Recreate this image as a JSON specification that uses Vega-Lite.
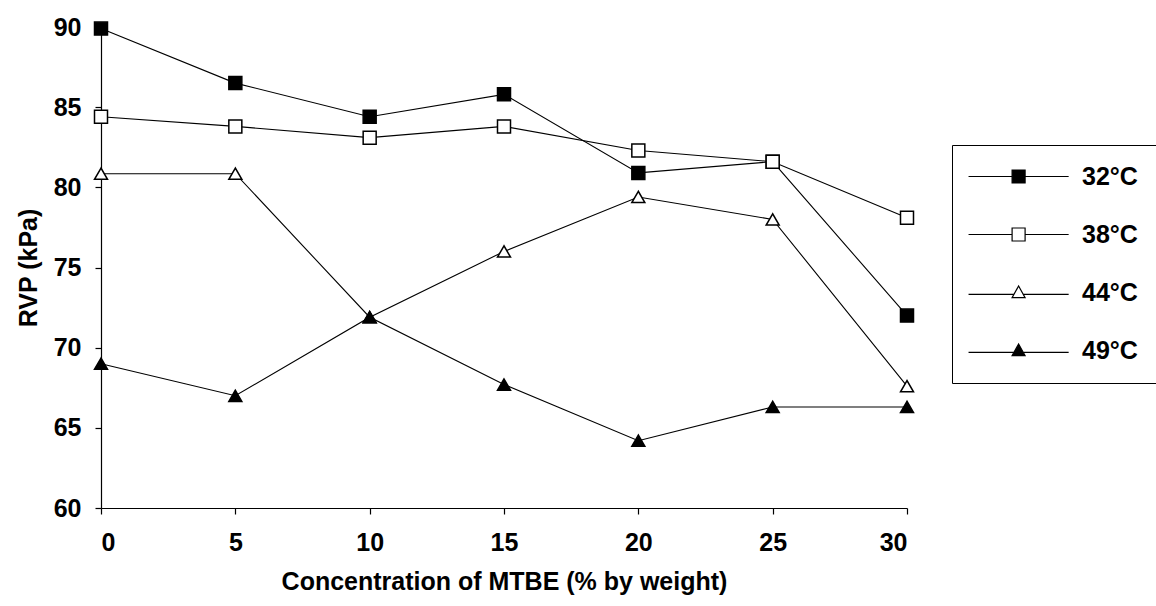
{
  "$schema": "https://vega.github.io/schema/vega-lite/v6.json",
  "autosize": "none",
  "padding": {"left": 101, "top": 27, "right": 249, "bottom": 98},
  "width": 806,
  "height": 481,
  "background": "white",
  "config": {
    "view": {"stroke": null},
    "font": "Liberation Sans",
    "axis": {
      "domainColor": "black", "tickColor": "black", "domainWidth": 1.2, "tickWidth": 1.2,
      "labelFont": "Liberation Sans", "labelFontWeight": "bold", "labelFontSize": 25, "labelColor": "black",
      "titleFont": "Liberation Sans", "titleFontWeight": "bold", "titleFontSize": 25, "titleColor": "black",
      "grid": false, "tickSize": 6
    },
    "legend": {
      "labelFont": "Liberation Sans", "labelFontWeight": "bold", "labelFontSize": 25, "labelColor": "black"
    }
  },
  "data": {
    "values": [
      {"mtbe": 0, "rvp": 89.9, "temp": "32°C"},
      {"mtbe": 5, "rvp": 86.5, "temp": "32°C"},
      {"mtbe": 10, "rvp": 84.4, "temp": "32°C"},
      {"mtbe": 15, "rvp": 85.8, "temp": "32°C"},
      {"mtbe": 20, "rvp": 80.9, "temp": "32°C"},
      {"mtbe": 25, "rvp": 81.6, "temp": "32°C"},
      {"mtbe": 30, "rvp": 72.0, "temp": "32°C"},
      {"mtbe": 0, "rvp": 84.4, "temp": "38°C"},
      {"mtbe": 5, "rvp": 83.8, "temp": "38°C"},
      {"mtbe": 10, "rvp": 83.1, "temp": "38°C"},
      {"mtbe": 15, "rvp": 83.8, "temp": "38°C"},
      {"mtbe": 20, "rvp": 82.3, "temp": "38°C"},
      {"mtbe": 25, "rvp": 81.6, "temp": "38°C"},
      {"mtbe": 30, "rvp": 78.1, "temp": "38°C"},
      {"mtbe": 0, "rvp": 80.85, "temp": "44°C"},
      {"mtbe": 5, "rvp": 80.85, "temp": "44°C"},
      {"mtbe": 10, "rvp": 71.9, "temp": "44°C"},
      {"mtbe": 15, "rvp": 76.0, "temp": "44°C"},
      {"mtbe": 20, "rvp": 79.4, "temp": "44°C"},
      {"mtbe": 25, "rvp": 78.0, "temp": "44°C"},
      {"mtbe": 30, "rvp": 67.6, "temp": "44°C"},
      {"mtbe": 0, "rvp": 69.0, "temp": "49°C"},
      {"mtbe": 5, "rvp": 67.0, "temp": "49°C"},
      {"mtbe": 10, "rvp": 71.9, "temp": "49°C"},
      {"mtbe": 15, "rvp": 67.7, "temp": "49°C"},
      {"mtbe": 20, "rvp": 64.2, "temp": "49°C"},
      {"mtbe": 25, "rvp": 66.3, "temp": "49°C"},
      {"mtbe": 30, "rvp": 66.3, "temp": "49°C"}
    ]
  },
  "encoding": {
    "x": {
      "field": "mtbe", "type": "quantitative",
      "scale": {"domain": [0, 30], "nice": false, "zero": false},
      "axis": {"values": [0, 5, 10, 15, 20, 25, 30], "title": "Concentration of MTBE (% by weight)", "labelPadding": 16, "titlePadding": 14}
    },
    "y": {
      "field": "rvp", "type": "quantitative",
      "scale": {"domain": [60, 90], "nice": false, "zero": false},
      "axis": {"values": [60, 65, 70, 75, 80, 85, 90], "title": "RVP (kPa)", "labelPadding": 14, "titlePadding": 12}
    }
  },
  "layer": [
    {
      "mark": {"type": "line", "stroke": "black", "strokeWidth": 1.1},
      "encoding": {"detail": {"field": "temp"}}
    },
    {
      "mark": {"type": "point", "filled": true, "size": 169, "stroke": "black", "strokeWidth": 1.5, "opacity": 1},
      "encoding": {
        "shape": {"field": "temp", "type": "nominal", "legend": null,
          "scale": {"domain": ["32°C", "38°C", "44°C", "49°C"], "range": ["square", "square", "triangle-up", "triangle-up"]}},
        "fill": {"field": "temp", "type": "nominal", "legend": null,
          "scale": {"domain": ["32°C", "38°C", "44°C", "49°C"], "range": ["black", "white", "white", "black"]}}
      }
    },
    {
      "mark": {"type": "point", "filled": true, "size": 169, "strokeWidth": 1.2, "opacity": 0},
      "encoding": {
        "shape": {"field": "temp", "type": "nominal",
          "scale": {"domain": ["32°C", "38°C", "44°C", "49°C"], "range": [
            "M -2.3 0 L 4.4 0 M 6.4 0 L 13.1 0 M 4.4 -1 L 6.4 -1 L 6.4 1 L 4.4 1 Z",
            "M -2.3 0 L 4.4 0 M 6.4 0 L 13.1 0 M 4.4 -1 L 6.4 -1 L 6.4 1 L 4.4 1 Z",
            "M -2.3 0.3 L 4.68 0.3 M 6.12 0.3 L 13.1 0.3 M 5.4 -1 L 6.4 0.8 L 4.4 0.8 Z",
            "M -2.3 0.3 L 4.68 0.3 M 6.12 0.3 L 13.1 0.3 M 5.4 -1 L 6.4 0.8 L 4.4 0.8 Z"]},
          "legend": {"title": null, "orient": "none", "legendX": 851, "legendY": 118, "symbolSize": 169, "symbolStrokeWidth": 1.2, "symbolOpacity": 1, "labelOffset": 86, "rowPadding": 32, "padding": 19, "strokeColor": "black", "fillColor": "white"}},
        "fill": {"field": "temp", "type": "nominal",
          "scale": {"domain": ["32°C", "38°C", "44°C", "49°C"], "range": ["black", "white", "white", "black"]},
          "legend": {"title": null, "orient": "none", "legendX": 851, "legendY": 118, "symbolSize": 169, "symbolStrokeWidth": 1.2, "symbolOpacity": 1, "labelOffset": 86, "rowPadding": 32, "padding": 19, "strokeColor": "black", "fillColor": "white"}},
        "stroke": {"field": "temp", "type": "nominal",
          "scale": {"domain": ["32°C", "38°C", "44°C", "49°C"], "range": ["black", "black", "black", "black"]},
          "legend": {"title": null, "orient": "none", "legendX": 851, "legendY": 118, "symbolSize": 169, "symbolStrokeWidth": 1.2, "symbolOpacity": 1, "labelOffset": 86, "rowPadding": 32, "padding": 19, "strokeColor": "black", "fillColor": "white"}}
      }
    }
  ],
  "resolve": {"scale": {"shape": "independent", "fill": "independent", "stroke": "independent"}}
}
